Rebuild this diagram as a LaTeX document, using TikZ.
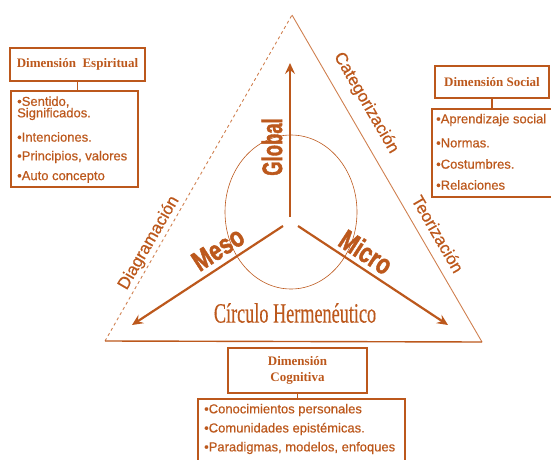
\documentclass[tikz,border=0pt]{standalone}
\usepackage{fontspec}
\usepackage{graphicx}
\setmainfont{Liberation Serif}
\setsansfont{Liberation Sans}
\newfontfamily\heavysans[FakeBold=2]{Liberation Sans Bold}
\newfontfamily\medsans[FakeBold=0.6]{Liberation Sans}
\newfontfamily\medserif[FakeBold=0.4]{Liberation Serif}
\usetikzlibrary{arrows.meta,shapes.geometric}
\definecolor{rust}{RGB}{188,88,28}
\definecolor{lightrust}{RGB}{208,128,80}
\tikzset{
  headbox/.style={draw=rust, line width=1.6pt, text=rust, font=\fontsize{13}{15}\selectfont\bfseries, inner sep=0pt, align=center},
  listbox/.style={draw=rust, line width=1.1pt, inner sep=0pt},
  item/.style={text=rust, font=\medsans\fontsize{13}{14}\selectfont, anchor=west, inner sep=0pt, align=left},
  link/.style={draw=rust, line width=1.6pt},
  bigarrow/.style={draw=rust, line width=2.2pt, -{Stealth[length=11pt,width=10pt,inset=4pt]}},
  edgelabel/.style={text=rust, font=\medsans\fontsize{17}{18}\selectfont, inner sep=0pt},
  levellabel/.style={text=rust, font=\heavysans\fontsize{28}{30}\selectfont, inner sep=0pt},
}
\begin{document}
\begin{tikzpicture}[x=1pt, y=-1pt]
\useasboundingbox (0,0) rectangle (551,460);

% triangle
\coordinate (A) at (292,15);
\coordinate (BL) at (105,341);
\coordinate (BR) at (482,342);
\draw[lightrust, line width=0.9pt, dash pattern=on 3pt off 3pt] (BL) -- (A);
\draw[lightrust, line width=0.9pt] (A) -- (BR);
\draw[rust, line width=1.4pt] (BL) -- (BR);

% hermeneutic circle
\node[draw=rust, line width=0.6pt, ellipse, minimum width=132pt, minimum height=154pt, inner sep=0pt] (circ) at (291,212) {};

% arrows
\coordinate (cG) at (290,217);
\coordinate (cM) at (283,226);
\coordinate (cR) at (298,226);
\coordinate (tG) at (290,63);
\coordinate (tM) at (132,325);
\coordinate (tR) at (448,325);
\draw[bigarrow] (cG) -- (tG);
\draw[bigarrow] (cM) -- (tM);
\draw[bigarrow] (cR) -- (tR);

% level labels
\node[levellabel, rotate=90] (global) at (272,147) {\scalebox{0.66}[1]{Global}};
\node[levellabel, rotate=33] (meso) at (218,249) {\scalebox{0.78}[1]{Meso}};
\node[levellabel, rotate=-33] (micro) at (366,252) {\scalebox{0.76}[1]{Micro}};

\node[text=rust, font=\medserif\fontsize{28}{30}\selectfont, inner sep=0pt] (herm) at (295,313) {\scalebox{0.65}[1]{Círculo Hermenéutico}};

% edge labels
\node[edgelabel, rotate=-60] (cat) at (366,103) {Categorización};
\node[edgelabel, rotate=-60] (teo) at (438,234) {Teorización};
\node[edgelabel, rotate=60] (dia) at (149,243) {Diagramación};

% Dimension Espiritual
\node[headbox, minimum width=135pt, minimum height=33pt] (hE) at (77.5,64.5) {Dimensión\ \ Espiritual};
\node[listbox, minimum width=127pt, minimum height=96pt] (lE) at (74.5,139) {};
\draw[link] (hE.south) -- (hE.south |- lE.north);
\node[item] (e1) at (17,102) {•Sentido,};
\node[item] (e2) at (17,114) {Significados.};
\node[item] (e3) at (17,137) {•Intenciones.};
\node[item] (e4) at (17,157) {•Principios, valores};
\node[item] (e5) at (17,177) {•Auto concepto};

% Dimension Social
\node[headbox, minimum width=114pt, minimum height=32pt] (hS) at (492,82) {Dimensión Social};
\node[listbox, minimum width=122pt, minimum height=88pt] (lS) at (493,153) {};
\draw[link] (hS.south) -- (hS.south |- lS.north);
\node[item] (s1) at (436,120) {•Aprendizaje social};
\node[item] (s2) at (436,143) {•Normas.};
\node[item] (s3) at (436,164) {•Costumbres.};
\node[item] (s4) at (436,185) {•Relaciones};

% Dimension Cognitiva
\node[headbox, minimum width=139pt, minimum height=45pt] (hC) at (297.5,370.5) {Dimensión\\[1pt]Cognitiva};
\node[listbox, minimum width=207pt, minimum height=70pt] (lC) at (301.5,434) {};
\draw[link] (hC.south) -- (hC.south |- lC.north);
\node[item] (c1) at (204,410) {•Conocimientos personales};
\node[item] (c2) at (204,429) {•Comunidades epistémicas.};
\node[item] (c3) at (204,448) {•Paradigmas, modelos, enfoques};
\end{tikzpicture}
\end{document}
